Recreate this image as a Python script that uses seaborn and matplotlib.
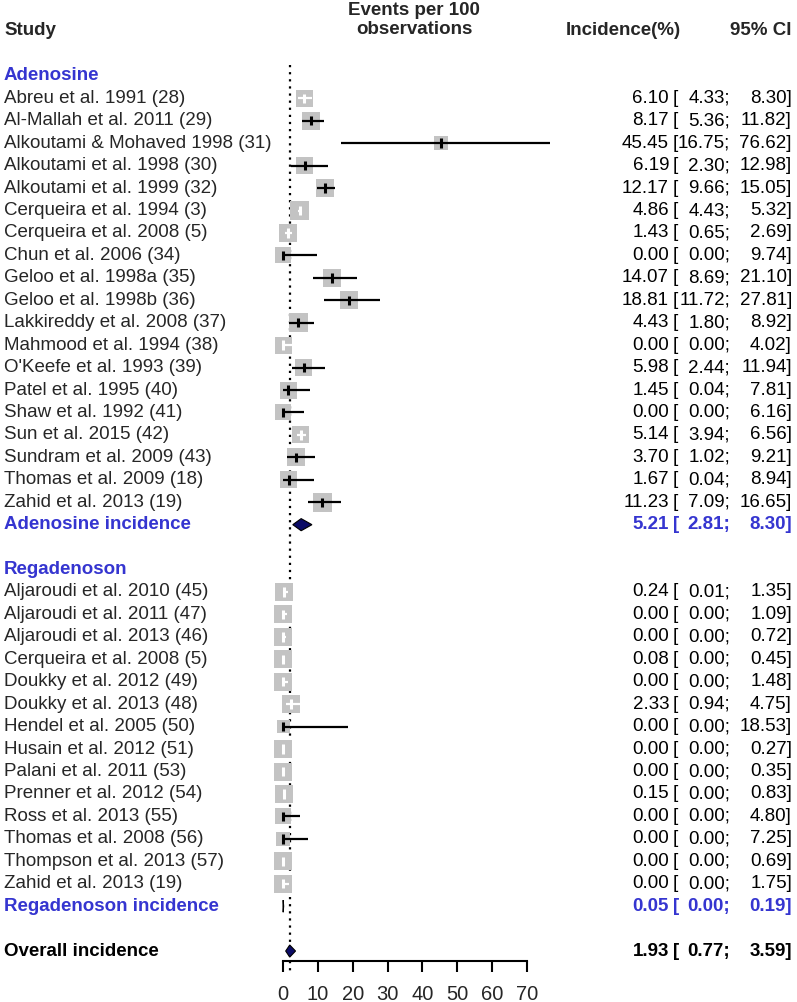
import numpy as np
import matplotlib
matplotlib.use("Agg")
import matplotlib.pyplot as plt
import matplotlib.transforms as mtransforms
import seaborn as sns

## study data
ade_studies = ["Abreu et al. 1991 (28)", "Al-Mallah et al. 2011 (29)", "Alkoutami & Mohaved 1998 (31)",
               "Alkoutami et al. 1998 (30)", "Alkoutami et al. 1999 (32)", "Cerqueira et al. 1994 (3)",
               "Cerqueira et al. 2008 (5)", "Chun et al. 2006 (34)", "Geloo et al. 1998a (35)",
               "Geloo et al. 1998b (36)", "Lakkireddy et al. 2008 (37)", "Mahmood et al. 1994 (38)",
               "O'Keefe et al. 1993 (39)", "Patel et al. 1995 (40)", "Shaw et al. 1992 (41)",
               "Sun et al. 2015 (42)", "Sundram et al. 2009 (43)", "Thomas et al. 2009 (18)",
               "Zahid et al. 2013 (19)"]
ade_est = [6.10, 8.17, 45.45, 6.19, 12.17, 4.86, 1.43, 0.00, 14.07, 18.81, 4.43, 0.00, 5.98, 1.45, 0.00, 5.14, 3.70, 1.67, 11.23]
ade_lo = [4.33, 5.36, 16.75, 2.30, 9.66, 4.43, 0.65, 0.00, 8.69, 11.72, 1.80, 0.00, 2.44, 0.04, 0.00, 3.94, 1.02, 0.04, 7.09]
ade_hi = [8.30, 11.82, 76.62, 12.98, 15.05, 5.32, 2.69, 9.74, 21.10, 27.81, 8.92, 4.02, 11.94, 7.81, 6.16, 6.56, 9.21, 8.94, 16.65]
ade_box = [17, 18, 14, 17, 18, 19, 18, 16, 18, 18, 19, 17, 17, 17, 16, 17, 18, 17, 19]

reg_studies = ["Aljaroudi et al. 2010 (45)", "Aljaroudi et al. 2011 (47)", "Aljaroudi et al. 2013 (46)",
               "Cerqueira et al. 2008 (5)", "Doukky et al. 2012 (49)", "Doukky et al. 2013 (48)",
               "Hendel et al. 2005 (50)", "Husain et al. 2012 (51)", "Palani et al. 2011 (53)",
               "Prenner et al. 2012 (54)", "Ross et al. 2013 (55)", "Thomas et al. 2008 (56)",
               "Thompson et al. 2013 (57)", "Zahid et al. 2013 (19)"]
reg_est = [0.24, 0.00, 0.00, 0.08, 0.00, 2.33, 0.00, 0.00, 0.00, 0.15, 0.00, 0.00, 0.00, 0.00]
reg_lo = [0.01, 0.00, 0.00, 0.00, 0.00, 0.94, 0.00, 0.00, 0.00, 0.00, 0.00, 0.00, 0.00, 0.00]
reg_hi = [1.35, 1.09, 0.72, 0.45, 1.48, 4.75, 18.53, 0.27, 0.35, 0.83, 4.80, 7.25, 0.69, 1.75]
reg_box = [18, 18, 18, 18, 18, 18, 13, 18, 18, 18, 16, 14, 18, 18]

## pooled estimates: adenosine, regadenoson, overall
pooled_names = ["Adenosine incidence", "Regadenoson incidence", "Overall incidence"]
pooled_est = [5.21, 0.05, 1.93]
pooled_lo = [2.81, 0.00, 0.77]
pooled_hi = [8.30, 0.19, 3.59]

group_names = ["Adenosine", "Regadenoson"]
x_ticks = [0, 10, 20, 30, 40, 50, 60, 70]

BLUE = "#3535d0"
NAVY = "#0b0b66"
GREY = "#c3c3c3"
FS = 13.5

sns.set_theme(style="white")
plt.rcParams["font.family"] = ["Liberation Sans", "DejaVu Sans"]

W, H = 797, 1002
fig = plt.figure(figsize=(W / 100, H / 100), dpi=100)

## axes in pixel layout: x 0..70 -> px 283..527, rows 22.44 px apart
row_px = 22.44
y0_px = 31  # header row
ax_top_row, ax_bot_row = 1.5, 41.45
top_px = y0_px + ax_top_row * row_px
bot_px = y0_px + ax_bot_row * row_px
ax = fig.add_axes([283 / W, 1 - bot_px / H, (527 - 283) / W, (bot_px - top_px) / H])
ax.set_xlim(0, 70)
ax.set_ylim(ax_bot_row, ax_top_row)
ppu = (527 - 283) / 70.0  # pixels per unit

## row layout
ade_rows = list(range(3, 3 + len(ade_studies)))
reg_rows = list(range(25, 25 + len(reg_studies)))
group_rows = [2, 24]
pooled_rows = [22, 39, 41]

studies = ade_studies + reg_studies
est = np.array(ade_est + reg_est)
lo = np.array(ade_lo + reg_lo)
hi = np.array(ade_hi + reg_hi)
box = np.array(ade_box + reg_box)
rows = np.array(ade_rows + reg_rows)

## reference line at the overall estimate
ax.plot([pooled_est[2], pooled_est[2]], [ax_top_row, ax_bot_row + 0.5], color="black",
        lw=1.6, linestyle=(0, (1, 2.2)), clip_on=False, zorder=1)

## squares
sns.scatterplot(x=est, y=rows, s=(box * 0.72) ** 2, marker="s", color=GREY,
                linewidth=0, ax=ax, clip_on=False, zorder=2, legend=False)

## confidence intervals and estimate ticks
for e, l, h, b, r in zip(est, lo, hi, box, rows):
    c = "white" if (h - l) * ppu < b else "black"
    ax.plot([l, h], [r, r], color=c, lw=1.6, clip_on=False, zorder=3, solid_capstyle="butt")
    ax.plot([e, e], [r - 0.21, r + 0.21], color=c, lw=2.2, clip_on=False, zorder=3, solid_capstyle="butt")

## diamonds
dh = 0.27
for e, l, h, r in zip(pooled_est, pooled_lo, pooled_hi, pooled_rows):
    ax.fill([l, e, h, e], [r, r - dh, r, r + dh], facecolor=NAVY, edgecolor="black",
            lw=0.8, clip_on=False, zorder=4)

## axis styling
for side in ["left", "right", "top"]:
    ax.spines[side].set_visible(False)
ax.spines["bottom"].set_bounds(0, 70)
ax.spines["bottom"].set_linewidth(1.5)
ax.spines["bottom"].set_color("black")
ax.set_xticks(x_ticks)
ax.set_yticks([])
ax.tick_params(axis="x", direction="out", length=8, width=1.5, color="black",
               labelsize=14.5, pad=9, bottom=True)
ax.grid(False)

## text columns
tr = mtransforms.blended_transform_factory(fig.transFigure, ax.transData)
xs_name = 4 / W
xs_inc = 669 / W
xs_br = 673 / W
xs_lo = 730 / W
xs_hi = 792 / W


def ci_text(r, e, l, h, color, weight):
    ax.text(xs_inc, r, f"{e:.2f}", transform=tr, ha="right", va="center", fontsize=FS,
            color=color, fontweight=weight, clip_on=False)
    ax.text(xs_br, r, "[", transform=tr, ha="left", va="center", fontsize=FS,
            color=color, fontweight=weight, clip_on=False)
    ax.text(xs_lo, r, f"{l:.2f};", transform=tr, ha="right", va="center", fontsize=FS,
            color=color, fontweight=weight, clip_on=False)
    ax.text(xs_hi, r, f"{h:.2f}]", transform=tr, ha="right", va="center", fontsize=FS,
            color=color, fontweight=weight, clip_on=False)


for name, r, e, l, h in zip(studies, rows, est, lo, hi):
    ax.text(xs_name, r, name, transform=tr, ha="left", va="center", fontsize=FS, clip_on=False)
    ci_text(r, e, l, h, "black", "normal")

for name, r in zip(group_names, group_rows):
    ax.text(xs_name, r, name, transform=tr, ha="left", va="center", fontsize=FS,
            color=BLUE, fontweight="bold", clip_on=False)

for i, (name, r) in enumerate(zip(pooled_names, pooled_rows)):
    col = BLUE if i < 2 else "black"
    ax.text(xs_name, r, name, transform=tr, ha="left", va="center", fontsize=FS,
            color=col, fontweight="bold", clip_on=False)
    ci_text(r, pooled_est[i], pooled_lo[i], pooled_hi[i], col, "bold")

## headers
ax.text(xs_name, 0, "Study", transform=tr, ha="left", va="center", fontsize=FS,
        fontweight="bold", clip_on=False)
ax.text(414 / W, -0.5, "Events per 100\nobservations", transform=tr, ha="center", va="center",
        fontsize=FS, fontweight="bold", linespacing=1.15, clip_on=False)
ax.text(681 / W, 0, "Incidence(%)", transform=tr, ha="right", va="center", fontsize=FS,
        fontweight="bold", clip_on=False)
ax.text(xs_hi, 0, "95% CI", transform=tr, ha="right", va="center", fontsize=FS,
        fontweight="bold", clip_on=False)

fig.savefig("out.png", dpi=100)
